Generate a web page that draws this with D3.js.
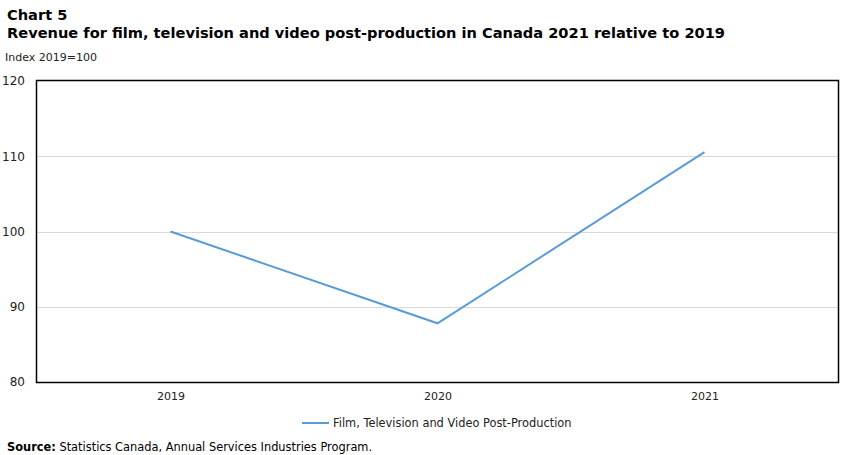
<!DOCTYPE html>
<html><head><meta charset="utf-8">
<script src="https://cdn.jsdelivr.net/npm/d3@7"></script>
<style>body{margin:0;background:#fff}svg{display:block;font-family:"DejaVu Sans",Verdana,sans-serif}</style>
</head><body><svg id="c" width="851" height="455"></svg>
<script>
const categories = ["2019", "2020", "2021"];
const seriesName = "Film, Television and Video Post-Production";
const values = [100, 87.8, 110.55];
const yTicks = [80, 90, 100, 110, 120];

const svg = d3.select("#c");
const m = {l: 37, r: 838, t: 81, b: 382};
const x = d3.scalePoint().domain(categories).range([m.l, m.r]).padding(0.5);
const y = d3.scaleLinear().domain([80, 120]).range([m.b, m.t]);

svg.append("text").attr("x", 7).attr("y", 20).attr("font-size", 14.6).attr("font-weight", "bold").attr("fill", "#000").text("Chart 5");
svg.append("text").attr("x", 7).attr("y", 38).attr("font-size", 14.6).attr("font-weight", "bold").attr("fill", "#000")
  .attr("textLength", 718).attr("lengthAdjust", "spacing")
  .text("Revenue for film, television and video post-production in Canada 2021 relative to 2019");
svg.append("text").attr("x", 5).attr("y", 61).attr("font-size", 11).attr("fill", "#222").text("Index 2019=100");

// grid
svg.append("g").selectAll("line").data(yTicks.filter(d => d > 80 && d < 120)).join("line")
  .attr("x1", m.l).attr("x2", m.r).attr("y1", d => Math.round(y(d)) + 0.5).attr("y2", d => Math.round(y(d)) + 0.5)
  .attr("stroke", "#d9d9d9").attr("stroke-width", 1);

// y axis labels
const ya = svg.append("g").attr("transform", `translate(${m.l},0)`)
  .call(d3.axisLeft(y).tickValues(yTicks).tickSize(0).tickPadding(12));
ya.select(".domain").remove();
ya.selectAll("text").attr("font-size", 12).attr("font-family", "DejaVu Sans, Verdana, sans-serif").attr("fill", "#222");

// x axis labels
const xa = svg.append("g").attr("transform", `translate(0,${m.b})`)
  .call(d3.axisBottom(x).tickSize(0).tickPadding(10));
xa.select(".domain").remove();
xa.selectAll("text").attr("font-size", 11).attr("font-family", "DejaVu Sans, Verdana, sans-serif").attr("fill", "#222");

// frame
svg.append("rect").attr("x", m.l - 0.5).attr("y", m.t - 0.5).attr("width", m.r - m.l + 1).attr("height", m.b - m.t + 1)
  .attr("fill", "none").attr("stroke", "#000").attr("stroke-width", 1.5);

// line
const line = d3.line().x((d, i) => x(categories[i])).y(d => y(d));
svg.append("path").datum(values).attr("d", line).attr("fill", "none").attr("stroke", "#5b9bd5").attr("stroke-width", 2);

// legend
svg.append("line").attr("x1", 302).attr("x2", 329).attr("y1", 423).attr("y2", 423).attr("stroke", "#5b9bd5").attr("stroke-width", 2);
svg.append("text").attr("x", 333).attr("y", 427).attr("font-size", 11.4).attr("fill", "#222").text(seriesName);

// source
const s = svg.append("text").attr("x", 7).attr("y", 451).attr("font-size", 11.4).attr("fill", "#000");
s.append("tspan").attr("font-weight", "bold").text("Source:");
s.append("tspan").text(" Statistics Canada, Annual Services Industries Program.");
</script></body></html>
